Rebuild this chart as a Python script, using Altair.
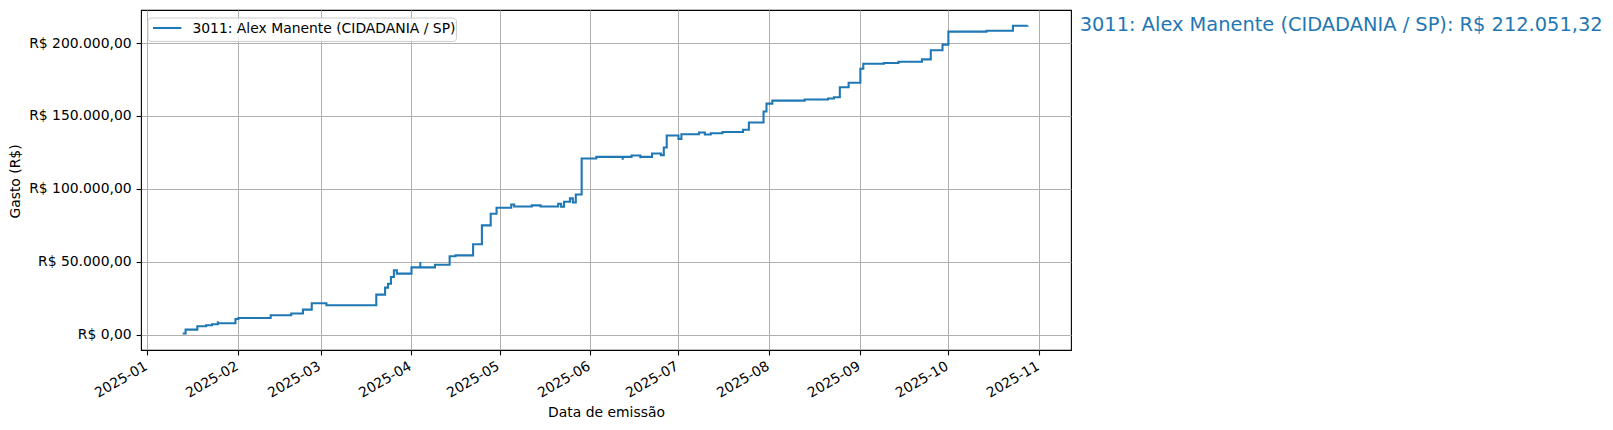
import altair as alt
import pandas as pd

series_name = "3011: Alex Manente (CIDADANIA / SP)"

dates = [
    "2025-01-13", "2025-01-14", "2025-01-18", "2025-01-21", "2025-01-23", "2025-01-25", "2025-01-25",
    "2025-01-31", "2025-02-01", "2025-02-12", "2025-02-19", "2025-02-23", "2025-02-23", "2025-02-26",
    "2025-03-03", "2025-03-20", "2025-03-23", "2025-03-24", "2025-03-25", "2025-03-26", "2025-03-27",
    "2025-04-01", "2025-04-04", "2025-04-04", "2025-04-09", "2025-04-14", "2025-04-16", "2025-04-22",
    "2025-04-25", "2025-04-28", "2025-04-30", "2025-05-05", "2025-05-06", "2025-05-12", "2025-05-15",
    "2025-05-21", "2025-05-22", "2025-05-23", "2025-05-25", "2025-05-26", "2025-05-27", "2025-05-29",
    "2025-06-03", "2025-06-12", "2025-06-12", "2025-06-15", "2025-06-18", "2025-06-18", "2025-06-22",
    "2025-06-25", "2025-06-26", "2025-06-27", "2025-07-01", "2025-07-02", "2025-07-06", "2025-07-06",
    "2025-07-08", "2025-07-10", "2025-07-12", "2025-07-16", "2025-07-23", "2025-07-25", "2025-07-30",
    "2025-07-31", "2025-08-02", "2025-08-13", "2025-08-21", "2025-08-23", "2025-08-25", "2025-08-28",
    "2025-09-01", "2025-09-02", "2025-09-09", "2025-09-14", "2025-09-22", "2025-09-25", "2025-09-29",
    "2025-10-01", "2025-10-14", "2025-10-23", "2025-10-28",
]

values = [
    700, 3400, 5700, 6400, 7100, 9100, 7800,
    10700, 11400, 13200, 14400, 15800, 17100, 21500,
    20100, 27400, 32200, 34900, 39500, 44100, 41800,
    46100, 49800, 46100, 47900, 53700, 54300, 61900,
    74900, 82900, 87000, 89200, 87900, 88600, 87900,
    89700, 87700, 91100, 93400, 90600, 96100, 120800,
    121900, 119900, 121900, 122800, 120900, 121900, 124200,
    123100, 128300, 136500, 134200, 137400, 136700, 137400,
    138600, 137200, 138100, 139000, 140500, 145500, 153000,
    158400, 160500, 161200, 161900, 162800, 169600, 172800,
    182400, 185800, 186300, 187200, 188800, 195000, 198900,
    207800, 208400, 211900, 212051.32,
]

y_ticks = [0, 50000, 100000, 150000, 200000]
x_tick_months = list(range(1, 12))

total = values[-1]
total_txt = f"{total:,.2f}".replace(",", "X").replace(".", ",").replace("X", ".")
annotation = f"{series_name}: R$ {total_txt}"

df = pd.DataFrame({
    "date": dates,
    "value": values,
    "idx": list(range(len(dates))),
    "name": [series_name] * len(dates),
})

FONT = "DejaVu Sans"
BLUE = "#1f77b4"

x_axis = alt.Axis(
    values=[alt.DateTime(year=2025, month=m, date=1, utc=True) for m in x_tick_months],
    labelExpr="utcFormat(datum.value, '%Y-%m')",
    labelAngle=-30, labelAlign="right", labelBaseline="top",
    labelOffset=-5, labelPadding=4,
    labelFont=FONT, labelFontSize=13.9, labelColor="black",
    tickColor="black", tickSize=4.9, tickWidth=1.1,
    grid=True, gridColor="#b0b0b0", gridWidth=1,
    domain=False,
    title="Data de emissão", titleFont=FONT, titleFontSize=13.9,
    titleFontWeight="normal", titleColor="black",
    titleY=66.5, titleBaseline="alphabetic",
)

y_axis = alt.Axis(
    values=y_ticks,
    labelExpr="'R$ ' + (datum.value == 0 ? '0' : format(datum.value / 1000, 'd') + '.000') + ',00'",
    labelFont=FONT, labelFontSize=13.9, labelColor="black", labelPadding=5,
    tickColor="black", tickSize=4.9, tickWidth=1.1,
    grid=True, gridColor="#b0b0b0", gridWidth=1,
    domain=False,
    title="Gasto (R$)", titleFont=FONT, titleFontSize=13.9,
    titleFontWeight="normal", titleColor="black",
    titleAngle=270, titleX=-125.6, titleY=171, titleAlign="center", titleBaseline="middle",
)

line = alt.Chart(df).mark_line(interpolate="step-after", strokeWidth=2.08).encode(
    x=alt.X(
        "date:T",
        scale=alt.Scale(
            type="utc",
            domain=[
                alt.DateTime(year=2024, month=12, date=29, hours=19, minutes=12, utc=True),
                alt.DateTime(year=2025, month=11, date=11, hours=19, minutes=12, utc=True),
            ],
        ),
        axis=x_axis,
    ),
    y=alt.Y(
        "value:Q",
        scale=alt.Scale(domain=[-10602.6, 222653.9], nice=False, zero=False),
        axis=y_axis,
    ),
    color=alt.Color("name:N", scale=alt.Scale(range=[BLUE]), legend=None),
    order=alt.Order("idx:Q"),
)

# legend (drawn by hand to match the boxed matplotlib legend)
legend_df = pd.DataFrame({"name": [series_name]})
legend_box = alt.Chart(legend_df).mark_rect(
    fill="white", fillOpacity=0.8, stroke="#cccccc", strokeWidth=1, cornerRadius=3,
).encode(
    x=alt.value(7), x2=alt.value(315.4), y=alt.value(8), y2=alt.value(31.4),
)
legend_line = alt.Chart(legend_df).mark_rule(color=BLUE, strokeWidth=2.08).encode(
    x=alt.value(12), x2=alt.value(40.4), y=alt.value(18),
)
legend_text = alt.Chart(legend_df).mark_text(
    align="left", baseline="alphabetic", font=FONT, fontSize=13.9, color="black",
).encode(
    x=alt.value(51.4), y=alt.value(23), text="name:N",
)

label = alt.Chart(pd.DataFrame({"t": [annotation]})).mark_text(
    align="left", baseline="alphabetic", font=FONT, fontSize=19.4, color=BLUE,
).encode(
    x=alt.value(938.7),
    y=alt.value(20.7),
    text="t:N",
)

chart = alt.layer(line, legend_box, legend_line, legend_text, label).properties(
    width=930,
    height=340,
    padding={"left": 133, "top": 2, "right": 532, "bottom": 70},
    autosize=alt.AutoSizeParams(type="none"),
).configure(
    font=FONT,
).configure_view(
    stroke="black", strokeWidth=1.1,
)

chart.save("out.html", embed_options={"renderer": "svg", "actions": False})
